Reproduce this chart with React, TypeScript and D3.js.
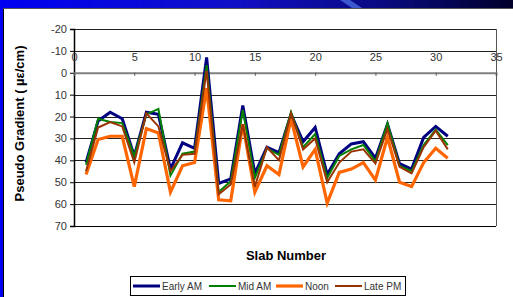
import { useEffect, useRef } from 'react';
import * as d3 from 'd3';

const slabs = d3.range(1, 32);

const earlyAm = [41, 22, 18, 21, 38, 18, 19, 44, 32, 34.5, -7, 50.5, 48.5, 15, 46, 34, 36.5, 19, 31.5, 25, 46.5, 37, 32.5, 31.5, 39, 23.5, 41.5, 44, 29.5, 24.5, 29];
const midAm = [42, 21, 22.5, 23, 38, 19, 16.5, 47, 37, 36, -3.5, 54.5, 49.5, 17, 48, 34.5, 37.5, 18, 34, 28, 48, 38, 35, 33, 40.5, 23, 42.5, 45, 33, 26, 33];
const noon = [46.5, 30.5, 29, 29, 52, 25.5, 27.5, 54.5, 42.5, 41, 7, 58, 58.5, 23.5, 54.5, 42.5, 46.5, 21, 43, 35, 59.5, 45.5, 44, 41, 49, 29.5, 50, 52, 41, 34.5, 39];
const latePm = [45, 25, 22.5, 24.5, 41, 18.5, 24.5, 45, 37.5, 37, -1, 55.5, 51, 23.5, 52, 34, 40, 18.5, 35, 30, 50, 41, 36, 35, 41.5, 25.5, 43, 46, 34, 26.5, 35];

const yTicks = [-20, -10, 0, 10, 20, 30, 40, 50, 60, 70];
const xTicks = [0, 5, 10, 15, 20, 25, 30, 35];

type Series = { name: string; color: string; width: number; values: number[] };

const series: Series[] = [
  { name: 'Early AM', color: '#000080', width: 3, values: earlyAm },
  { name: 'Mid AM', color: '#008000', width: 2, values: midAm },
  { name: 'Noon', color: '#ff6600', width: 3.2, values: noon },
  { name: 'Late PM', color: '#993300', width: 2, values: latePm },
];

export default function App() {
  const svgRef = useRef<SVGSVGElement | null>(null);

  useEffect(() => {
    const svgElement = svgRef.current;
    if (!svgElement) {
      return;
    }
    const svg = d3.select(svgElement);
    svg.selectAll('*').remove();

    const width = 513;
    const height = 297;
    const plot = { left: 74, right: 496, top: 29, bottom: 226 };
    const font = 'Liberation Sans, Arial, sans-serif';

    // slide background: blue title strip + left edge
    const defs = svg.append('defs');
    const grad = defs.append('linearGradient').attr('id', 'band').attr('x1', 0).attr('x2', 1).attr('y1', 0).attr('y2', 0);
    grad.append('stop').attr('offset', '0%').attr('stop-color', '#0000f2');
    grad.append('stop').attr('offset', '45%').attr('stop-color', '#1010c8');
    grad.append('stop').attr('offset', '75%').attr('stop-color', '#0a0a80');
    grad.append('stop').attr('offset', '100%').attr('stop-color', '#00002a');

    svg.append('rect').attr('width', width).attr('height', height).attr('fill', '#ffffff');
    svg.append('rect').attr('width', width).attr('height', 8).attr('fill', 'url(#band)');
    svg.append('polygon').attr('points', '340,0 350,0 362,8 352,8').attr('fill', '#4a6ae0').attr('opacity', 0.8);
    svg.append('rect').attr('x', 0).attr('y', 0).attr('width', 3).attr('height', height).attr('fill', '#0000f2');
    svg.append('line').attr('x1', 3.5).attr('x2', 3.5).attr('y1', 8).attr('y2', height).attr('stroke', '#000').attr('stroke-width', 1);
    svg.append('line').attr('x1', 3).attr('x2', width).attr('y1', 8.5).attr('y2', 8.5).attr('stroke', '#555').attr('stroke-width', 1);

    const x = d3.scaleLinear().domain([0, 35]).range([plot.left, plot.right]);
    const y = d3.scaleLinear().domain([-20, 70]).range([plot.top, plot.bottom]);

    // gridlines
    svg
      .append('g')
      .selectAll('line')
      .data(yTicks)
      .join('line')
      .attr('x1', plot.left)
      .attr('x2', plot.right)
      .attr('y1', (d) => Math.round(y(d)) + 0.5)
      .attr('y2', (d) => Math.round(y(d)) + 0.5)
      .attr('stroke', (d) => (d === 70 ? '#000' : '#222'))
      .attr('stroke-width', 1);

    // right border of plot
    svg.append('line').attr('x1', plot.right + 0.5).attr('x2', plot.right + 0.5).attr('y1', plot.top).attr('y2', plot.bottom).attr('stroke', '#555');

    // y axis
    const yAxis = svg
      .append('g')
      .attr('transform', `translate(${plot.left},0)`)
      .call(d3.axisLeft(y).tickValues(yTicks).tickSize(4).tickFormat((v) => `${v}`));
    yAxis.select('.domain').attr('stroke', '#000').attr('stroke-width', 1.5);
    yAxis.selectAll('line').attr('stroke', '#000');
    yAxis.selectAll('text').attr('font-family', font).attr('font-size', 11).attr('fill', '#333').attr('x', -7);

    // x axis at y = 0
    const xAxis = svg
      .append('g')
      .attr('transform', `translate(0,${y(0)})`)
      .call(d3.axisBottom(x).tickValues(xTicks).tickSize(3).tickFormat((v) => `${v}`));
    xAxis.select('.domain').attr('stroke', '#808080').attr('stroke-width', 2);
    xAxis.selectAll('line').attr('stroke', '#555');
    xAxis
      .selectAll('text')
      .attr('font-family', font)
      .attr('font-size', 11)
      .attr('fill', '#333')
      .attr('y', -20)
      .attr('dy', '0.71em');

    // series
    const line = d3
      .line<number>()
      .x((_, i) => x(slabs[i]))
      .y((d) => y(d));

    svg
      .append('g')
      .selectAll('path')
      .data(series)
      .join('path')
      .attr('fill', 'none')
      .attr('stroke', (d) => d.color)
      .attr('stroke-width', (d) => d.width)
      .attr('stroke-linejoin', 'miter')
      .attr('d', (d) => line(d.values));

    // titles
    svg
      .append('text')
      .attr('transform', `translate(24,${(plot.top + plot.bottom) / 2 - 4}) rotate(-90)`)
      .attr('text-anchor', 'middle')
      .attr('font-family', font)
      .attr('font-size', 13)
      .attr('font-weight', 'bold')
      .attr('fill', '#000')
      .text('Pseudo Gradient ( µε/cm)');

    svg
      .append('text')
      .attr('x', 286)
      .attr('y', 260)
      .attr('text-anchor', 'middle')
      .attr('font-family', font)
      .attr('font-size', 13)
      .attr('font-weight', 'bold')
      .attr('fill', '#000')
      .text('Slab Number');

    // legend
    const legend = svg.append('g');
    legend.append('rect').attr('x', 130.5).attr('y', 276.5).attr('width', 275).attr('height', 19).attr('fill', '#fff').attr('stroke', '#000');
    const offsets = [133, 209, 276, 335];
    const rows = legend
      .selectAll('g')
      .data(series)
      .join('g')
      .attr('transform', (_, i) => `translate(${offsets[i]},286)`);
    rows
      .append('line')
      .attr('x1', 0)
      .attr('x2', 27)
      .attr('stroke', (d) => d.color)
      .attr('stroke-width', (d) => d.width);
    rows
      .append('text')
      .attr('x', 29)
      .attr('y', 3.5)
      .attr('font-family', font)
      .attr('font-size', 10)
      .attr('fill', '#333')
      .text((d) => d.name);
  }, []);

  return <svg ref={svgRef} width={513} height={297} style={{ position: 'absolute', left: 0, top: 0 }} />;
}
